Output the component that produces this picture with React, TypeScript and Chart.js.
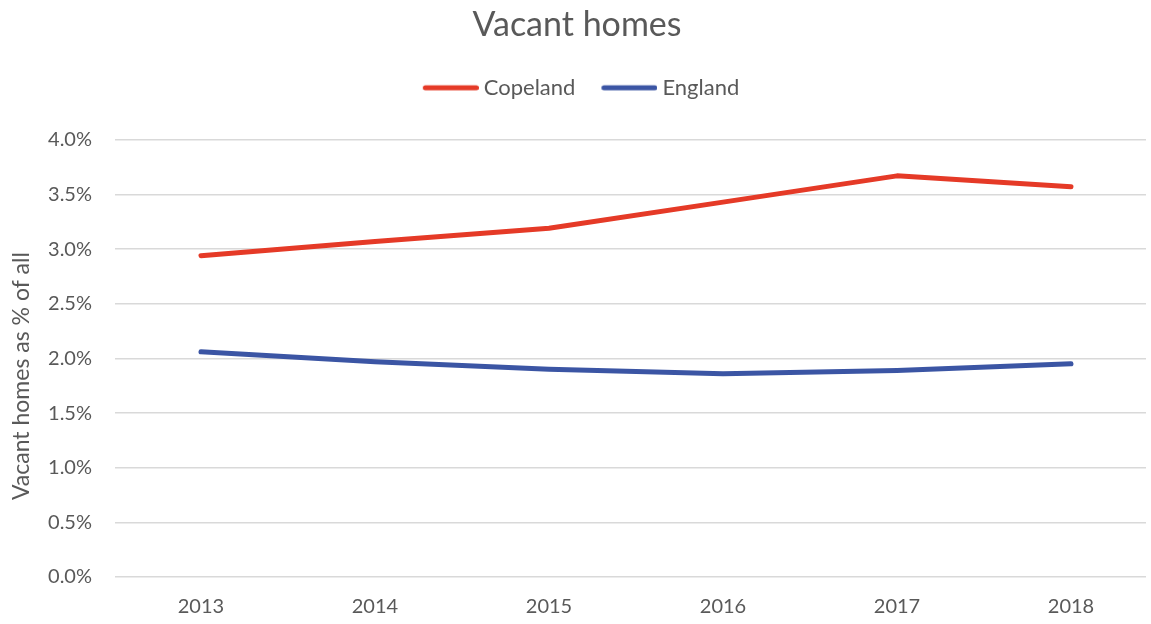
import React, { useEffect, useRef } from "react";
import { Chart, registerables } from "chart.js";

Chart.register(...registerables);

const years = [2013, 2014, 2015, 2016, 2017, 2018];
const copeland = [2.94, 3.07, 3.19, 3.43, 3.67, 3.57];
const england = [2.06, 1.97, 1.90, 1.86, 1.89, 1.95];
const seriesNames = ["Copeland", "England"];
const seriesColors = ["#E53A27", "#3B55A4"];

const FONT = "Lato, 'Open Sans', sans-serif";
const TEXT = "#595959";

const legendGap = {
  id: "legendGap",
  beforeInit(chart: any) {
    const legend = chart.legend;
    if (!legend) return;
    const orig = legend.fit;
    legend.fit = function () {
      orig.call(this);
      this.height += 31;
    };
    const od = legend.draw;
    legend.draw = function () {
      const ctx = this.ctx;
      ctx.save();
      ctx.translate(4, 0);
      od.call(this);
      ctx.restore();
    };
  },
};

function makeSwatch(color: string) {
  const c = document.createElement("canvas");
  c.width = 62;
  c.height = 8;
  const g = c.getContext("2d")!;
  g.strokeStyle = color;
  g.lineWidth = 5;
  g.lineCap = "round";
  g.beginPath();
  g.moveTo(8.5, 4);
  g.lineTo(59.5, 4);
  g.stroke();
  return c;
}

export default function App() {
  const ref = useRef<HTMLCanvasElement | null>(null);
  useEffect(() => {
    if (!ref.current) return;
    const swatches = seriesColors.map(makeSwatch);
    const mk = (i: number, vals: number[]) => ({
      label: seriesNames[i],
      data: years.map((y, k) => ({ x: y, y: vals[k] })),
      borderColor: seriesColors[i],
      backgroundColor: seriesColors[i],
      borderWidth: 5,
      borderCapStyle: "round" as const,
      borderJoinStyle: "round" as const,
      pointRadius: 0,
      tension: 0,
    });
    const chart = new Chart(ref.current, {
      type: "line",
      data: { datasets: [mk(0, copeland), mk(1, england)] },
      plugins: [legendGap],
      options: {
        animation: false,
        responsive: true,
        maintainAspectRatio: false,
        layout: { padding: { left: 8, right: 5, top: 5, bottom: 6 } },
        plugins: {
          title: {
            display: true,
            text: "Vacant homes",
            color: TEXT,
            font: { family: FONT, size: 34, weight: "normal" },
            padding: { top: 0, bottom: 5 },
          },
          legend: {
            position: "top",
            labels: {
              color: TEXT,
              font: { family: FONT, size: 22 },
              usePointStyle: true,
              pointStyleWidth: 50,
              boxHeight: 5,
              padding: 26,
              generateLabels: (ch: any) => {
                const items = Chart.defaults.plugins.legend.labels.generateLabels(ch);
                items.forEach((it: any, i: number) => {
                  it.pointStyle = swatches[i];
                });
                return items;
              },
            },
          },
          tooltip: { enabled: false },
        },
        scales: {
          x: {
            type: "linear",
            min: 2012.506,
            max: 2018.431,
            afterBuildTicks: (scale: any) => {
              scale.ticks = years.map((v) => ({ value: v }));
            },
            afterFit: (scale: any) => {
              scale.height = 41;
            },
            ticks: {
              color: TEXT,
              font: { family: FONT, size: 20 },
              padding: 18,
              maxRotation: 0,
              callback: (v: any) => String(v),
            },
            grid: { display: false, drawTicks: false },
            border: { display: false },
          },
          y: {
            min: 0,
            max: 4,
            afterFit: (scale: any) => {
              scale.width = 107;
            },
            ticks: {
              stepSize: 0.5,
              color: TEXT,
              font: { family: FONT, size: 20 },
              padding: 23,
              callback: (v: any) => Number(v).toFixed(1) + "%",
            },
            grid: { color: "#D9D9D9", lineWidth: 1.5, drawTicks: false },
            border: { display: false },
            title: {
              display: true,
              text: "Vacant homes as % of all      ",
              color: TEXT,
              font: { family: FONT, size: 23 },
              padding: { top: 0, bottom: 0 },
            },
          },
        },
      },
    });
    return () => chart.destroy();
  }, []);
  return (
    <div style={{ position: "fixed", left: 0, top: 0, width: 1151, height: 624, background: "#fff" }}>
      <canvas ref={ref} />
    </div>
  );
}
